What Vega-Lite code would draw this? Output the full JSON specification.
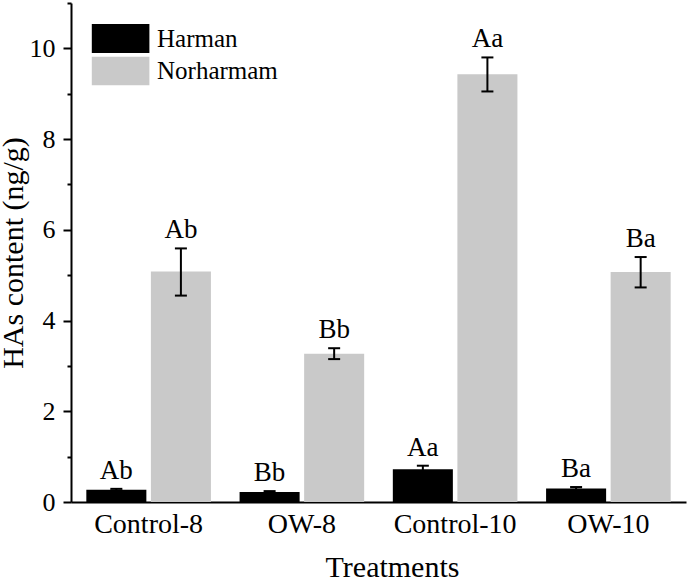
{
  "$schema": "https://vega.github.io/schema/vega-lite/v6.json",
  "width": 615,
  "height": 499,
  "autosize": {"type": "none"},
  "padding": {"left": 71, "top": 3, "right": 2, "bottom": 79},
  "background": "white",
  "config": {
    "font": "Liberation Serif",
    "view": {"stroke": null},
    "axis": {
      "domainColor": "black",
      "domainWidth": 2,
      "tickColor": "black",
      "tickWidth": 2,
      "labelColor": "black",
      "titleColor": "black",
      "titleFontWeight": "normal",
      "labelFont": "Liberation Serif",
      "titleFont": "Liberation Serif",
      "grid": false
    }
  },
  "data": {
    "values": [
      {"treatment": "Control-8", "compound": "Harman", "value": 0.27, "lo": 0.25, "hi": 0.29, "label": "Ab"},
      {"treatment": "Control-8", "compound": "Norharmam", "value": 5.08, "lo": 4.55, "hi": 5.59, "label": "Ab"},
      {"treatment": "OW-8", "compound": "Harman", "value": 0.22, "lo": 0.2, "hi": 0.24, "label": "Bb"},
      {"treatment": "OW-8", "compound": "Norharmam", "value": 3.27, "lo": 3.15, "hi": 3.39, "label": "Bb"},
      {"treatment": "Control-10", "compound": "Harman", "value": 0.72, "lo": 0.66, "hi": 0.8, "label": "Aa"},
      {"treatment": "Control-10", "compound": "Norharmam", "value": 9.43, "lo": 9.05, "hi": 9.8, "label": "Aa"},
      {"treatment": "OW-10", "compound": "Harman", "value": 0.3, "lo": 0.27, "hi": 0.33, "label": "Ba"},
      {"treatment": "OW-10", "compound": "Norharmam", "value": 5.07, "lo": 4.73, "hi": 5.4, "label": "Ba"}
    ]
  },
  "encoding": {
    "x": {
      "field": "treatment",
      "type": "nominal",
      "sort": ["Control-8", "OW-8", "Control-10", "OW-10"],
      "scale": {"paddingInner": 0.187, "paddingOuter": 0.1},
      "axis": {
        "title": "Treatments",
        "labelAngle": 0,
        "labelFontSize": 28,
        "titleFontSize": 30,
        "ticks": false,
        "labelPadding": 8,
        "titlePadding": 14,
        "titleX": 321
      }
    },
    "xOffset": {
      "field": "compound",
      "type": "nominal",
      "sort": ["Harman", "Norharmam"],
      "scale": {"paddingInner": 0.07, "paddingOuter": 0}
    }
  },
  "layer": [
    {
      "mark": {"type": "bar"},
      "encoding": {
        "y": {
          "field": "value",
          "type": "quantitative",
          "scale": {"domain": [0, 11], "nice": false, "zero": true},
          "axis": {
            "title": "HAs content (ng/g)",
            "values": [0, 1, 2, 3, 4, 5, 6, 7, 8, 9, 10, 11],
            "labelExpr": "datum.value % 2 === 0 ? datum.label : ''",
            "tickSize": {"condition": {"test": "datum.value % 2 === 0", "value": 8}, "value": 4},
            "labelFontSize": 26,
            "labelPadding": 8,
            "titleFontSize": 30,
            "titlePadding": 1
          }
        },
        "color": {
          "field": "compound",
          "type": "nominal",
          "scale": {"domain": ["Harman", "Norharmam"], "range": ["#000000", "#c9c9c9"]},
          "legend": {
            "title": null,
            "orient": "none",
            "legendX": 20.5,
            "legendY": 21,
            "padding": 0,
            "symbolType": "M-1,-0.5H1V0.5H-1Z",
            "symbolSize": 3340,
            "symbolStrokeWidth": 0,
            "symbolOpacity": 1,
            "clipHeight": 29,
            "rowPadding": 3.5,
            "labelFontSize": 25,
            "labelFont": "Liberation Serif",
            "labelColor": "black",
            "labelOffset": 7.5,
            "labelLimit": 300
          }
        }
      }
    },
    {
      "mark": {"type": "rule", "strokeWidth": 2, "color": "black"},
      "encoding": {
        "y": {"field": "lo", "type": "quantitative"},
        "y2": {"field": "hi"}
      }
    },
    {
      "mark": {"type": "tick", "size": 12, "thickness": 2, "color": "black", "opacity": 1},
      "encoding": {"y": {"field": "lo", "type": "quantitative"}}
    },
    {
      "mark": {"type": "tick", "size": 12, "thickness": 2, "color": "black", "opacity": 1},
      "encoding": {"y": {"field": "hi", "type": "quantitative"}}
    },
    {
      "mark": {"type": "text", "baseline": "alphabetic", "dy": -10, "fontSize": 27, "font": "Liberation Serif", "color": "black"},
      "encoding": {
        "y": {"field": "hi", "type": "quantitative"},
        "text": {"field": "label"}
      }
    }
  ]
}
